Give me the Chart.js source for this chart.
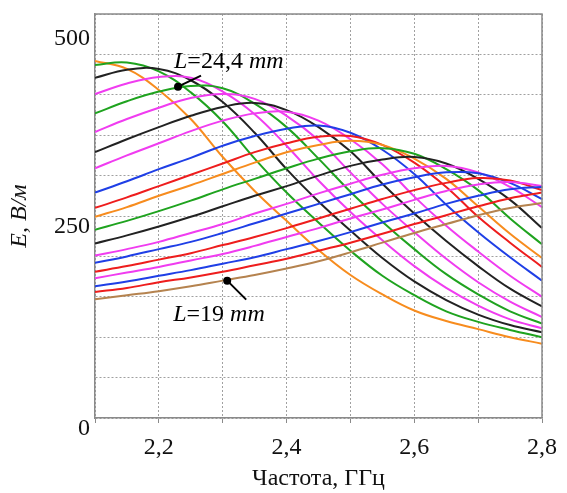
<!DOCTYPE html>
<html>
<head>
<meta charset="utf-8">
<script src="https://cdn.jsdelivr.net/npm/chart.js@4.4.0/dist/chart.umd.min.js"></script>
<style>
  html, body { margin: 0; padding: 0; background: #fff; }
</style>
</head>
<body>
<canvas id="chart" width="567" height="493"></canvas>
<script>
// frequency grid, GHz
var freqGHz = [2.10, 2.15, 2.20, 2.25, 2.30, 2.35, 2.40, 2.45, 2.50, 2.55, 2.60, 2.65, 2.70, 2.75, 2.80];

// field E, V/m, one curve per resonator length (bottom L=19 mm ... top L=24,4 mm)
var curve01 = [147, 152, 157, 163, 170, 177, 185, 194, 205, 217, 229, 240, 251, 260, 266];
var curve02 = [156, 161, 168, 174, 181, 189, 197, 207, 217, 228, 240, 251, 262, 272, 279];
var curve03 = [163, 169, 176, 183, 191, 199, 209, 219, 230, 242, 253, 265, 275, 283, 286];
var curve04 = [173, 180, 187, 195, 203, 213, 224, 235, 247, 258, 270, 281, 289, 292, 287];
var curve05 = [181, 188, 196, 204, 214, 224, 235, 247, 259, 271, 282, 291, 297, 294, 282];
var curve06 = [192, 200, 209, 218, 229, 241, 253, 265, 277, 289, 298, 304, 303, 291, 271];
var curve07 = [201, 209, 218, 229, 240, 253, 265, 278, 290, 301, 309, 312, 304, 286, 261];
var curve08 = [216, 226, 237, 249, 262, 275, 287, 300, 312, 320, 323, 315, 296, 270, 235];
var curve09 = [233, 244, 256, 269, 283, 296, 309, 321, 330, 334, 327, 308, 282, 247, 215];
var curve10 = [249, 261, 275, 288, 302, 316, 329, 338, 343, 338, 321, 296, 262, 228, 198];
var curve11 = [260, 273, 287, 301, 315, 329, 340, 348, 349, 338, 316, 286, 249, 217, 187];
var curve12 = [279, 293, 308, 322, 337, 349, 358, 362, 353, 332, 302, 264, 230, 199, 170];
var curve13 = [309, 325, 340, 355, 368, 377, 379, 368, 345, 314, 274, 238, 206, 176, 150];
var curve14 = [329, 345, 360, 374, 385, 390, 381, 360, 330, 290, 253, 219, 188, 160, 138];
var curve15 = [354, 370, 384, 396, 401, 395, 374, 344, 304, 265, 230, 197, 168, 144, 125];
var curve16 = [377, 392, 404, 411, 408, 389, 360, 321, 280, 243, 209, 178, 153, 132, 117];
var curve17 = [401, 414, 422, 421, 404, 376, 337, 294, 255, 220, 188, 161, 139, 122, 111];
var curve18 = [421, 431, 432, 418, 391, 353, 308, 268, 232, 198, 169, 146, 128, 115, 106];
var curve19 = [437, 440, 429, 403, 367, 321, 279, 242, 207, 176, 152, 132, 119, 109, 100];
var curve20 = [442, 432, 406, 370, 323, 281, 244, 208, 177, 153, 133, 120, 110, 100, 92];

var curves = [curve01, curve02, curve03, curve04, curve05, curve06, curve07, curve08, curve09, curve10,
              curve11, curve12, curve13, curve14, curve15, curve16, curve17, curve18, curve19, curve20];

// y tick labels that are written
var yLabelValues = [0, 250, 500];

// callouts: point on the curve and its L value
var noteFreq = [2.23, 2.307];
var noteValue = [410, 170];
var noteText = ['24,4', '19'];

var BROWN = '#b5834f', RED = '#ee1d1d', BLUE = '#1f3fe6', MAG = '#f03cf0',
    BLACK = '#222222', GREEN = '#1fa31f', ORANGE = '#f78c1e';
var lineColors = [BROWN, RED, BLUE, MAG, RED, BLUE, MAG, BLACK, GREEN, ORANGE,
                  RED, BLUE, MAG, BLACK, MAG, GREEN, MAG, BLACK, GREEN, ORANGE];

var SERIF = "'Liberation Serif', 'Times New Roman', serif";

var datasets = curves.map(function (vals, i) {
  return {
    data: vals.map(function (v, j) { return { x: freqGHz[j], y: v }; }),
    borderColor: lineColors[i],
    borderWidth: 2,
    pointRadius: 0,
    fill: false,
    tension: 0.4
  };
});

// frame, y labels and callouts
var extras = {
  id: 'extras',
  afterDraw: function (chart) {
    var ctx = chart.ctx;
    var a = chart.chartArea;
    var xs = chart.scales.x, ys = chart.scales.y;
    ctx.save();
    ctx.strokeStyle = '#8a8a8a';
    ctx.lineWidth = 1.5;
    ctx.beginPath();
    ctx.moveTo(a.left, a.top);
    ctx.lineTo(a.right, a.top);
    ctx.lineTo(a.right, a.bottom);
    ctx.stroke();

    // y labels sit a little below their grid line, kept inside the frame
    ctx.fillStyle = '#111';
    ctx.font = '24px ' + SERIF;
    ctx.textAlign = 'right';
    ctx.textBaseline = 'middle';
    yLabelValues.forEach(function (v) {
      var py = Math.max(ys.getPixelForValue(v) + 11, a.top + 25);
      ctx.fillText(String(v), a.left - 5, py);
    });

    for (var i = 0; i < noteFreq.length; i++) {
      var px = xs.getPixelForValue(noteFreq[i]);
      var py = ys.getPixelForValue(noteValue[i]);
      var tx, ty, lx, ly;
      if (i === 0) { tx = px - 4; ty = py - 19; lx = px + 23; ly = py - 11; }
      else { tx = px - 54; ty = py + 40; lx = px + 19; ly = py + 19; }
      ctx.strokeStyle = '#000';
      ctx.lineWidth = 2;
      ctx.beginPath();
      ctx.moveTo(px, py);
      ctx.lineTo(lx, ly);
      ctx.stroke();
      ctx.fillStyle = '#000';
      ctx.beginPath();
      ctx.arc(px, py, 4, 0, Math.PI * 2);
      ctx.fill();

      ctx.textBaseline = 'alphabetic';
      ctx.textAlign = 'left';
      var x = tx;
      ctx.font = 'italic 24px ' + SERIF;
      ctx.fillText('L', x, ty);
      x += ctx.measureText('L').width;
      ctx.font = '24px ' + SERIF;
      var mid = '=' + noteText[i] + ' ';
      ctx.fillText(mid, x, ty);
      x += ctx.measureText(mid).width;
      ctx.font = 'italic 24px ' + SERIF;
      ctx.fillText('mm', x, ty);
    }
    ctx.restore();
  }
};

var chart = new Chart(document.getElementById('chart'), {
  type: 'line',
  data: { datasets: datasets },
  plugins: [extras],
  options: {
    responsive: false,
    animation: false,
    layout: { padding: { top: 14, right: 18, left: 0, bottom: 0 } },
    plugins: { legend: { display: false }, tooltip: { enabled: false } },
    scales: {
      x: {
        type: 'linear',
        min: 2.1,
        max: 2.8,
        afterFit: function (s) { s.height = 75; },
        ticks: {
          stepSize: 0.1,
          autoSkip: false,
          maxRotation: 0,
          padding: 10,
          color: '#111',
          font: { family: SERIF, size: 24 },
          callback: function (v) {
            var k = Math.round(v * 10);
            return (k % 2 === 0 && k > 21) ? (k / 10).toFixed(1).replace('.', ',') : '';
          }
        },
        grid: { color: '#a0a0a0', lineWidth: 1, tickLength: 5, tickColor: '#8a8a8a' },
        border: { display: true, color: '#8a8a8a', width: 1.5, dash: [2, 2] },
        title: {
          display: true,
          text: 'Частота, ГГц',
          color: '#111',
          font: { family: SERIF, size: 24 },
          padding: { top: 0, bottom: 0 }
        }
      },
      y: {
        min: 0,
        max: 500,
        afterFit: function (s) { s.width = 95; },
        ticks: {
          stepSize: 50,
          callback: function () { return ''; }
        },
        grid: { color: '#a0a0a0', lineWidth: 1, drawTicks: false },
        border: { display: true, color: '#8a8a8a', width: 1.5, dash: [2, 2] },
        title: {
          display: true,
          text: 'E, В/м',
          color: '#111',
          font: { family: SERIF, size: 24, style: 'italic' },
          padding: { top: 5, bottom: 0 }
        }
      }
    }
  }
});
</script>
</body>
</html>
